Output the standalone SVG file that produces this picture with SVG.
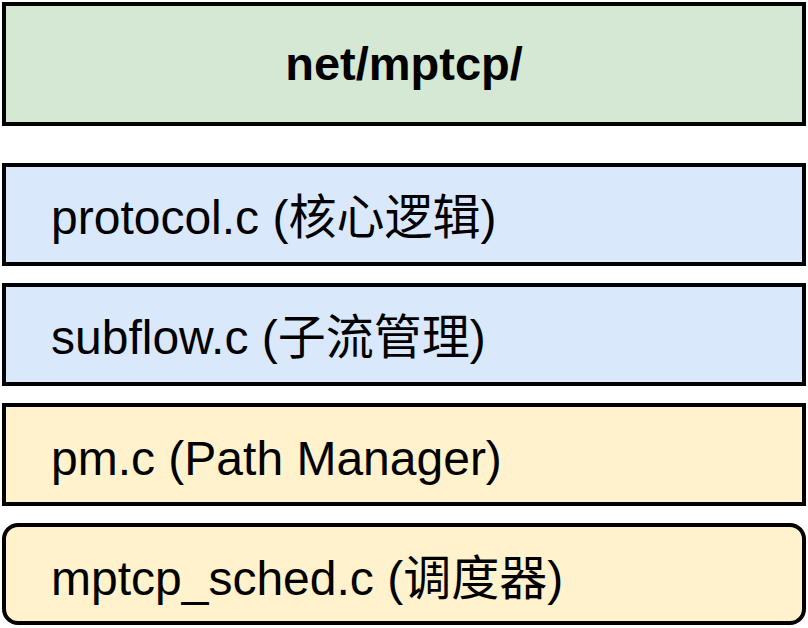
<svg xmlns="http://www.w3.org/2000/svg" width="808" height="628" viewBox="0 0 808 628">
<style>
.box{stroke:#000;stroke-width:4}
.g{fill:#d5e8d4}
.b{fill:#dae8fc}
.y{fill:#fff2cc}
text{font-family:"Liberation Sans","Noto Sans CJK SC",Arial,sans-serif;font-size:48px;fill:#000}
.title{font-weight:bold;font-size:47px;text-anchor:middle}
</style>
<rect width="808" height="628" fill="#fff"/>
<g id="net-mptcp">
<rect class="box g" x="4" y="4" width="800" height="120"/>
<text class="title" x="404" y="80">net/mptcp/</text>
</g>
<g id="protocol">
<rect class="box b" x="4" y="165" width="800" height="99"/>
<text x="51" y="234">protocol.c (核心逻辑)</text>
</g>
<g id="subflow">
<rect class="box b" x="4" y="285" width="800" height="99"/>
<text x="51" y="354">subflow.c (子流管理)</text>
</g>
<g id="pm">
<rect class="box y" x="4" y="405" width="800" height="99"/>
<text x="51" y="475">pm.c (Path Manager)</text>
</g>
<g id="sched">
<rect class="box y" x="4" y="525" width="800" height="98" rx="14" ry="14"/>
<text x="51" y="595">mptcp_sched.c (调度器)</text>
</g>
<g id="connectors"></g>
</svg>
